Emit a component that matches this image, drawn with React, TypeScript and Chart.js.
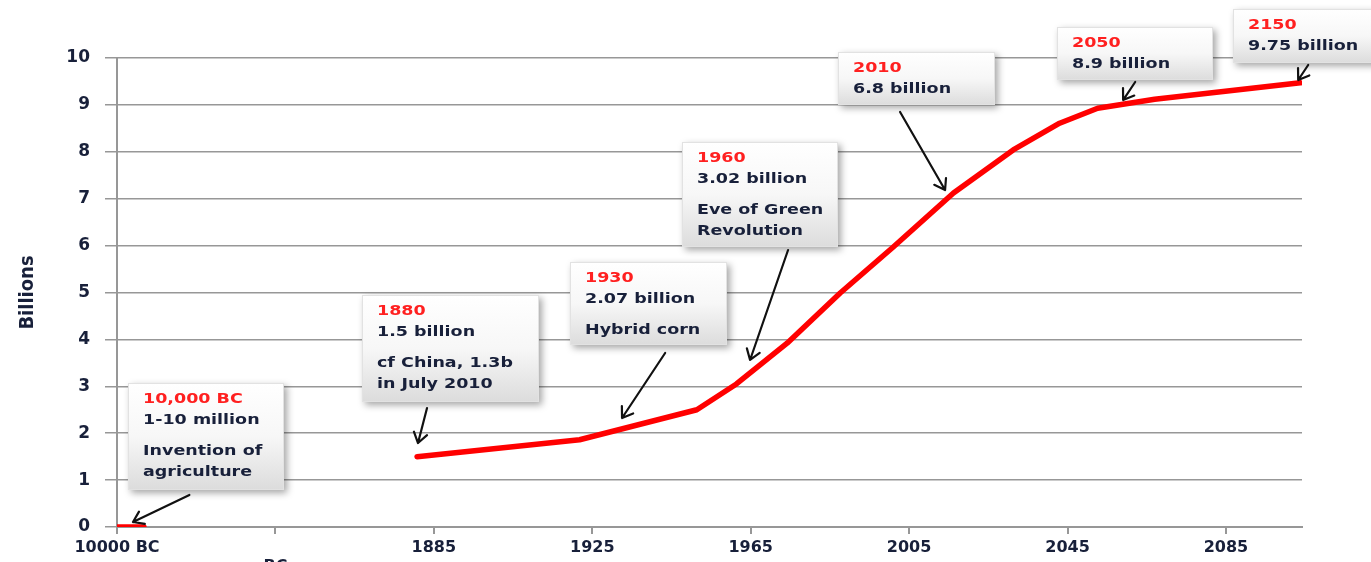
import React, { useEffect, useRef } from "react";
import { Chart, registerables } from "chart.js";

Chart.register(...registerables);

// Category-axis tick labels (one per tick position 0..7)
const xTickLabels: (string | string[])[] = ["10000 BC", ["", "BC"], "1885", "1925", "1965", "2005", "2045", "2085"];
const xTickPositions = [0, 1, 2, 3, 4, 5, 6, 7];
const xAxisMax = 7.48;

// Line series: position along the category axis and population in billions
const axisPos = [0, 0.17, 1.0, 1.894, 2.92, 3.66, 3.91, 4.23, 4.565, 4.9, 5.28, 5.657, 5.95, 6.19, 6.55, 7.47];
const population: (number | null)[] = [0, 0, null, 1.5, 1.86, 2.5, 3.05, 3.92, 4.99, 5.97, 7.12, 8.04, 8.61, 8.93, 9.12, 9.47];

const yMin = 0;
const yMax = 10;

// Call-out notes: box anchor (axis position, value), arrow from/to (axis position, value)
const notes = [
  { lines: ["10,000 BC", "1-10 million", "Invention of", "agriculture"], box: [0.069, 3.07], size: [156, 107], arrow: [[0.457, 0.682], [0.101, 0.107]] },
  { lines: ["1880", "1.5 billion", "cf China, 1.3b", "in July 2010"], box: [1.547, 4.947], size: [177, 107], arrow: [[1.957, 2.537], [1.9, 1.791]] },
  { lines: ["1930", "2.07 billion", "Hybrid corn"], box: [2.86, 5.65], size: [157, 83], arrow: [[3.46, 3.71], [3.188, 2.324]] },
  { lines: ["1960", "3.02 billion", "Eve of Green", "Revolution"], box: [3.567, 8.209], size: [156, 105], arrow: [[4.236, 5.906], [3.996, 3.561]] },
  { lines: ["2010", "6.8 billion"], box: [4.552, 10.128], size: [157, 53], arrow: [[4.943, 8.849], [5.227, 7.186]] },
  { lines: ["2050", "8.9 billion"], box: [5.934, 10.661], size: [156, 53], arrow: [[6.427, 9.488], [6.351, 9.104]] },
  { lines: ["2150", "9.75 billion"], box: [7.045, 11.045], size: [150, 54], arrow: [[7.519, 9.851], [7.456, 9.531]] },
];
const lineOffsets = [16, 37, 68, 89];

const TEXT_DARK = "#18203a";
const RED = "#ff0000";

const notesPlugin = {
  id: "notes",
  afterDatasetsDraw(chart: any) {
    const { ctx } = chart;
    const xs = chart.scales.x;
    const ys = chart.scales.y;
    notes.forEach((n) => {
      const bx = Math.round(xs.getPixelForValue(n.box[0]));
      const by = Math.round(ys.getPixelForValue(n.box[1]));
      const [w, h] = n.size;
      ctx.save();
      ctx.shadowColor = "rgba(0,0,0,0.35)";
      ctx.shadowBlur = 7;
      ctx.shadowOffsetX = 3;
      ctx.shadowOffsetY = 3;
      const g = ctx.createLinearGradient(0, by, 0, by + h);
      g.addColorStop(0, "#ffffff");
      g.addColorStop(0.5, "#f7f7f7");
      g.addColorStop(1, "#dcdcdc");
      ctx.fillStyle = g;
      ctx.fillRect(bx, by, w, h);
      ctx.restore();
      ctx.save();
      ctx.strokeStyle = "#e2e2e2";
      ctx.lineWidth = 1;
      ctx.strokeRect(bx + 0.5, by + 0.5, w - 1, h - 1);
      ctx.restore();

      n.lines.forEach((t, i) => {
        ctx.save();
        ctx.translate(bx + 15, by + lineOffsets[i]);
        ctx.scale(1.25, 1);
        ctx.font = "bold 14px 'DejaVu Sans'";
        ctx.fillStyle = i === 0 ? "#ff2020" : TEXT_DARK;
        ctx.textBaseline = "middle";
        ctx.textAlign = "left";
        ctx.fillText(t, 0, 0);
        ctx.restore();
      });

      const x1 = xs.getPixelForValue(n.arrow[0][0]);
      const y1 = ys.getPixelForValue(n.arrow[0][1]);
      const x2 = xs.getPixelForValue(n.arrow[1][0]);
      const y2 = ys.getPixelForValue(n.arrow[1][1]);
      const ang = Math.atan2(y2 - y1, x2 - x1);
      const hl = 12;
      const spread = 0.6;
      ctx.save();
      ctx.strokeStyle = "#111111";
      ctx.lineWidth = 2.2;
      ctx.lineCap = "round";
      ctx.lineJoin = "round";
      ctx.beginPath();
      ctx.moveTo(x1, y1);
      ctx.lineTo(x2, y2);
      ctx.moveTo(x2 - hl * Math.cos(ang - spread), y2 - hl * Math.sin(ang - spread));
      ctx.lineTo(x2, y2);
      ctx.lineTo(x2 - hl * Math.cos(ang + spread), y2 - hl * Math.sin(ang + spread));
      ctx.stroke();
      ctx.restore();
    });
  },
};

export default function App() {
  const canvasRef = useRef<HTMLCanvasElement | null>(null);

  useEffect(() => {
    if (!canvasRef.current) return;
    const data = axisPos.map((p, i) => ({ x: p, y: population[i] }));
    const chart = new Chart(canvasRef.current, {
      type: "line",
      data: {
        datasets: [
          {
            label: "World population",
            data: data as any,
            borderColor: RED,
            backgroundColor: RED,
            borderWidth: 5.5,
            pointRadius: 0,
            tension: 0,
            spanGaps: false,
            borderCapStyle: "round",
            borderJoinStyle: "round",
          },
        ],
      },
      options: {
        responsive: false,
        animation: false,
        layout: { padding: { top: 58, left: 16, right: 69, bottom: 0 } },
        plugins: { legend: { display: false }, tooltip: { enabled: false } },
        scales: {
          x: {
            type: "linear",
            min: 0,
            max: xAxisMax,
            afterBuildTicks: (scale: any) => {
              scale.ticks = xTickPositions.map((v) => ({ value: v }));
            },
            afterFit: (scale: any) => {
              scale.height = 35;
            },
            ticks: {
              autoSkip: false,
              maxRotation: 0,
              padding: 5,
              color: TEXT_DARK,
              font: { family: "'DejaVu Sans'", size: 16, weight: "bold", lineHeight: 1.15 },
              callback: (v: any) => xTickLabels[Math.round(Number(v))] ?? "",
            },
            grid: { drawOnChartArea: false, drawTicks: true, tickLength: 7, color: "#979797", lineWidth: 2 },
            border: { display: true, color: "#979797", width: 2 },
          },
          y: {
            min: yMin,
            max: yMax,
            afterFit: (scale: any) => {
              scale.width = 101;
            },
            ticks: {
              stepSize: 1,
              padding: 15,
              color: TEXT_DARK,
              font: { family: "'DejaVu Sans'", size: 17, weight: "bold" },
            },
            grid: { color: "#979797", lineWidth: 1.5, tickLength: 12 },
            border: { display: true, color: "#979797", width: 2 },
            title: {
              display: true,
              text: "Billions",
              color: TEXT_DARK,
              padding: 0,
              font: { family: "'DejaVu Sans Condensed'", size: 20, weight: "bold" },
            },
          },
        },
      },
      plugins: [notesPlugin],
    });
    return () => chart.destroy();
  }, []);

  return (
    <div style={{ position: "fixed", left: 0, top: 0, width: 1371, height: 562, overflow: "hidden", background: "#ffffff" }}>
      <canvas ref={canvasRef} width={1371} height={562} style={{ display: "block" }} />
    </div>
  );
}
